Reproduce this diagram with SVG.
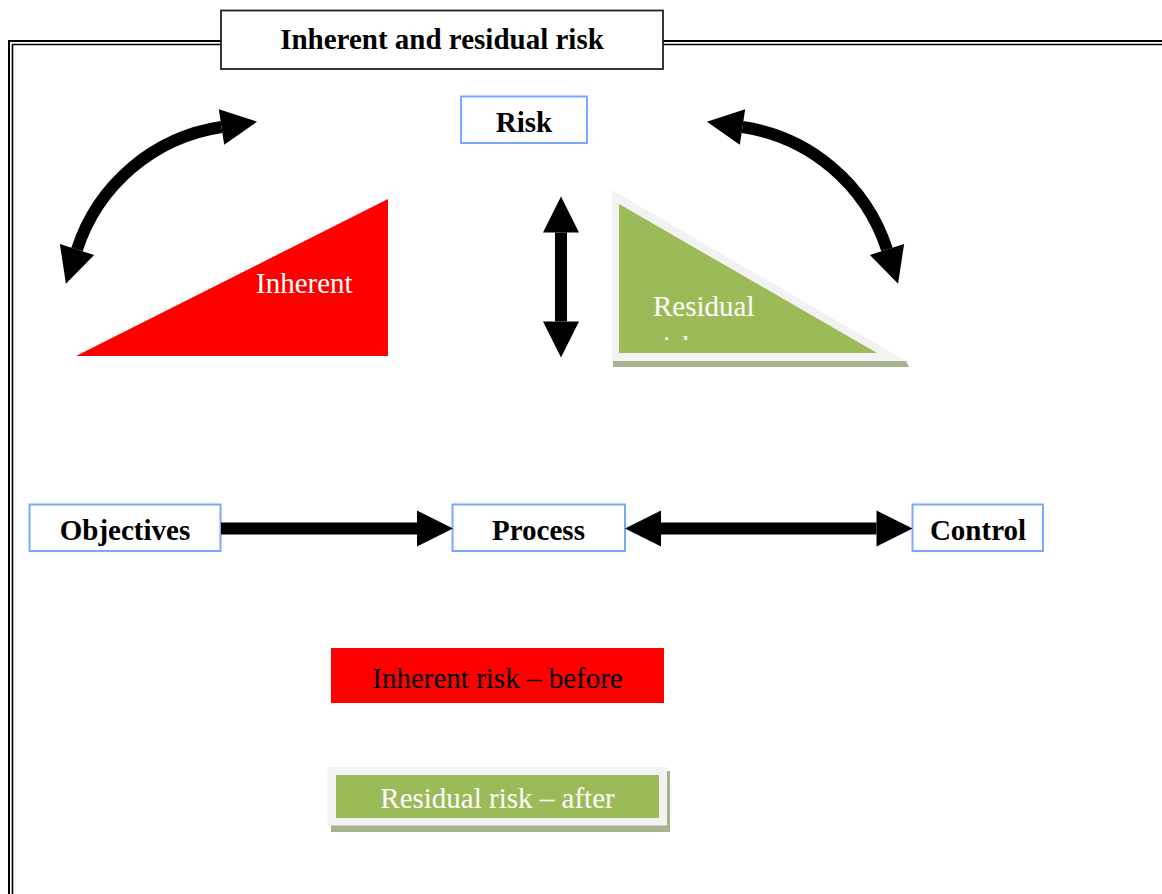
<svg xmlns="http://www.w3.org/2000/svg" width="1162" height="894" viewBox="0 0 1162 894">
<style>
.bx{fill:#fff;stroke:#7ba7ff;stroke-width:2}
.bt{font-family:"Liberation Serif","Times New Roman",serif;font-weight:bold;font-size:29px;fill:#000;text-anchor:middle}
.rt{font-family:"Liberation Serif","Times New Roman",serif;font-size:29px}
.sh{fill:none;stroke:#000;stroke-width:12}
</style>
<defs>
<marker id="ah" markerUnits="userSpaceOnUse" markerWidth="36" markerHeight="36" refX="0" refY="18" viewBox="0 0 36 36" orient="auto-start-reverse" overflow="visible">
<path d="M0,0 L36,18 L0,36 Z" fill="#000"/>
</marker>
<clipPath id="cl"><rect x="600" y="300" width="300" height="40"/></clipPath>
</defs>
<g id="frame" fill="none" stroke="#000">
<path d="M1162 41 H9 V894" stroke-width="2"/>
<path d="M1162 44.5 H12.5 V894" stroke-width="1.6"/>
</g>
<g id="title">
<rect x="221" y="10.5" width="442" height="58.5" fill="#fff" stroke="#222" stroke-width="1.8"/>
<text class="bt" x="442" y="48.5">Inherent and residual risk</text>
</g>
<g id="risk">
<rect class="bx" x="461" y="96.5" width="126" height="46.5"/>
<text class="bt" x="524" y="131.5">Risk</text>
</g>
<g id="inherent-triangle">
<polygon points="76,356 388,356 388,199" fill="#ff0000"/>
<text class="rt" x="256" y="292.5" fill="#fff">Inherent</text>
</g>
<g id="residual-triangle">
<polygon points="613,361 906,361 909,367 613,367" fill="#a6b38f"/>
<polygon points="612,190 612,361 906,361" fill="#f2f2f2"/>
<polygon points="619,204 619,353 877,353" fill="#9bbb59"/>
<text class="rt" x="653" y="315.5" fill="#fff">Residual</text>
<text class="rt" x="653" y="356" fill="#fff" clip-path="url(#cl)">risk</text>
</g>
<g id="objectives">
<rect class="bx" x="29.5" y="504.5" width="191" height="46.5"/>
<text class="bt" x="125" y="539.5">Objectives</text>
</g>
<g id="process">
<rect class="bx" x="452.5" y="504.5" width="172.5" height="46.5"/>
<text class="bt" x="538.5" y="539.5">Process</text>
</g>
<g id="control">
<rect class="bx" x="912.5" y="504.5" width="130.5" height="46.5"/>
<text class="bt" x="978" y="539.5">Control</text>
</g>
<g id="legend-inherent">
<rect x="331" y="648" width="333" height="55" fill="#ff0000"/>
<text class="rt" x="497.5" y="687.5" fill="#000" text-anchor="middle">Inherent risk – before</text>
</g>
<g id="legend-residual">
<rect x="331" y="771" width="339" height="61" fill="#a6b38f"/>
<rect x="327.5" y="767" width="339.5" height="58.5" fill="#f2f2f2"/>
<rect x="336" y="775" width="323" height="43" fill="#9bbb59"/>
<text class="rt" x="497.5" y="807.5" fill="#fff" text-anchor="middle">Residual risk – after</text>
</g>
<g id="connectors">
<path class="sh" d="M221 528.5 H417" marker-end="url(#ah)"/>
<path class="sh" d="M661 528.5 H876.5" marker-start="url(#ah)" marker-end="url(#ah)"/>
<path class="sh" d="M561 232.5 V321.5" marker-start="url(#ah)" marker-end="url(#ah)"/>
<path class="sh" d="M221.5 127 A 180 180 0 0 0 77 249.5" marker-start="url(#ah)" marker-end="url(#ah)"/>
<path class="sh" d="M742.5 127 A 180 180 0 0 1 887 249.5" marker-start="url(#ah)" marker-end="url(#ah)"/>
</g>
</svg>
